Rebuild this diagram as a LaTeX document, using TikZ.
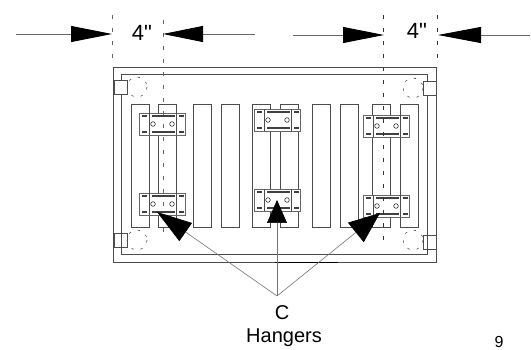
\documentclass[tikz,border=0pt]{standalone}
\usepackage{fontspec}
\setmainfont{Liberation Sans}
\newfontfamily\sizefont{Liberation Sans}
\usetikzlibrary{arrows.meta}

\tikzset{
  frameline/.style={draw=black!70,line width=0.8pt},
  slat/.style={draw=black!70,line width=0.8pt,minimum width=18pt,minimum height=123pt,inner sep=0pt,outer sep=0pt,anchor=north west},
  hangerbox/.style={draw=black!60,fill=white,line width=0.9pt,minimum width=46pt,minimum height=22pt,inner sep=0pt,outer sep=0pt,anchor=north west},
  centerline/.style={black!60,line width=0.9pt,dash pattern=on 4pt off 9pt},
  dimline/.style={black!60,line width=0.8pt},
  leader/.style={black!55,line width=0.6pt},
  clipbox/.style={draw=black!70,line width=0.8pt,minimum width=13pt,minimum height=14pt,inner sep=0pt,outer sep=0pt},
  rivet/.style={black!70,line width=0.6pt,dash pattern=on 2.5pt off 7pt},
  label/.style={inner sep=0pt,font=\fontsize{20}{20}\selectfont},
  sizelabel/.style={inner sep=0pt,font=\sizefont\fontsize{22}{22}\selectfont}
}

% one hanger plate, top left corner at #2,#3
\newcommand{\hanger}[3]{
  \node[hangerbox] (#1) at (#2,#3) {};
  \begin{scope}[shift={(#2,#3)}]
    \draw[black!70,line width=0.8pt] (10,0) -- (10,22) (37,0) -- (37,22);
    \draw[black!75,line width=1.4pt] (13,3) -- (36,3) (13,19) -- (36,19);
    \draw[black!75,line width=1.1pt] (3,3) -- (8,3) (3,19) -- (8,19) (40,3) -- (45,3) (40,19) -- (45,19);
    \draw[black!80,line width=0.6pt] (14,11) circle (2.3) (33,11) circle (2.3);
  \end{scope}
}

\begin{document}
\begin{tikzpicture}[x=1pt,y=-1pt]
\useasboundingbox (0,0) rectangle (531,350);

% frame
\draw[frameline] (113,67) rectangle (436,262);
\draw[frameline] (121,80) -- (121,74) -- (427,74) -- (427,81);
\draw[frameline] (121,95) -- (121,254) -- (427,254) -- (427,95);
\draw[black,line width=0.9pt] (275,262) -- (338,262);

% corner clips
\node[clipbox] (clipNW) at (120.5,87) {};
\node[clipbox] (clipSW) at (120.5,240) {};
\node[clipbox] (clipNE) at (429.5,88) {};
\node[clipbox] (clipSE) at (429.5,242) {};
\foreach \x/\y in {137/87,137/240,413/88,413/240}
  \draw[rivet] (\x,\y) circle (10);

% slats
\foreach \x in {131,158,193,221,252,280,312,340,372,400}
  \node[slat] (slat\x) at (\x,104) {};

% hangers
\hanger{hangerA}{139}{113}
\hanger{hangerB}{139}{193}
\hanger{hangerC}{254}{109}
\hanger{hangerD}{254}{189}
\hanger{hangerE}{363}{115}
\hanger{hangerF}{363}{195}

% center lines
\draw[centerline] (112,15) -- (112,67);
\draw[centerline] (163,20) -- (163,240);
\draw[centerline,black!80] (383,15) -- (383,240);
\draw[centerline,black!80] (437,15) -- (437,67);

% dimensions
\coordinate (dimA) at (16,34);
\coordinate (tipA) at (112,34);
\coordinate (dimB) at (255,34);
\coordinate (tipB) at (163,34);
\coordinate (dimC) at (293,35);
\coordinate (tipC) at (384,35);
\coordinate (dimD) at (530,35);
\coordinate (tipD) at (438,35);
\draw[dimline,-{Triangle[length=41pt,width=16pt,color=black,fill=black]}] (dimA) -- (tipA);
\draw[dimline,-{Triangle[length=40pt,width=16pt,color=black,fill=black]}] (dimB) -- (tipB);
\draw[dimline,-{Triangle[length=41pt,width=16pt,color=black,fill=black]}] (dimC) -- (tipC);
\draw[dimline,-{Triangle[length=43pt,width=16pt,color=black,fill=black]}] (dimD) -- (tipD);
\node[sizelabel] (sizeL) at (142,33) {4"};
\node[sizelabel] (sizeR) at (417,31) {4"};

% labels and leaders
\coordinate (apex) at (277,296);
\node[label] (labelC) at (282,313) {C};
\node[label] (labelH) at (284,338) {Hangers};
\node[inner sep=0pt,font=\fontsize{16}{16}\selectfont] (labelN) at (499,342) {9};
\coordinate (tipL) at (157,212);
\coordinate (tipM) at (277,200);
\coordinate (tipR) at (380,213);
\draw[leader,-{Triangle[length=35pt,width=22pt,color=black,fill=black]}] (apex) -- (tipL);
\draw[leader,-{Triangle[length=23pt,width=20pt,color=black,fill=black]}] (apex) -- (tipM);
\draw[leader,-{Triangle[length=31pt,width=25pt,color=black,fill=black]}] (apex) -- (tipR);

\end{tikzpicture}
\end{document}
